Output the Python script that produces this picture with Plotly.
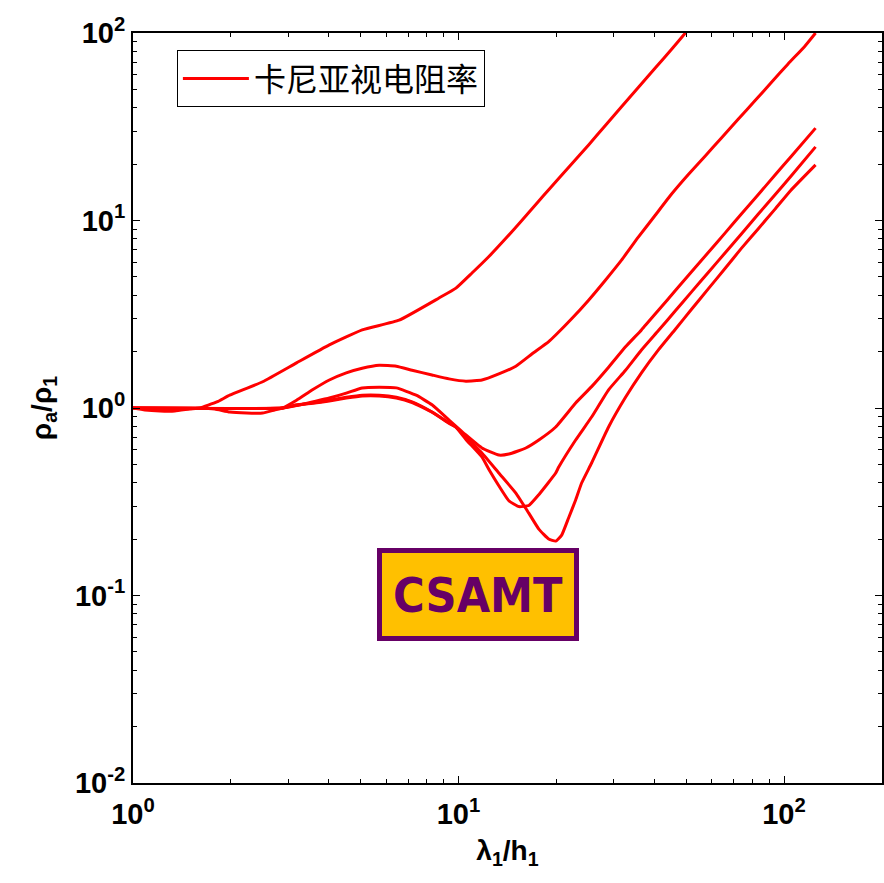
import numpy as np
import plotly.graph_objects as go

# ---- data ----
lam_A = [1.0, 1.088, 1.21, 1.345, 1.495, 1.604, 1.809, 1.982, 2.502, 3.18, 4.01, 5.06, 6.57, 8.71, 9.82,
         11.0, 12.4, 13.98, 15.65, 17.65, 18.93, 22.26, 25.1, 28.3, 31.68, 35.72, 40.27, 45.08, 49.76, 60, 80, 125]
rho_A = [1.0, 0.976, 0.964, 0.964, 0.988, 1.0, 1.077, 1.17, 1.38, 1.74, 2.17, 2.61, 2.94, 3.86, 4.36,
         5.25, 6.43, 8.04, 10.0, 12.7, 14.6, 20.0, 25.3, 32.2, 40.4, 51.3, 65.2, 81.7, 100, 145, 255, 620]

lam_B = [1.0, 1.604, 1.783, 1.982, 2.235, 2.502, 2.722, 2.88, 3.18, 3.56, 4.01, 4.52, 5.06, 5.71, 6.44,
         7.20, 8.29, 9.35, 10.54, 11.8, 13.3, 15.0, 16.8, 18.93, 19.89, 22.26, 25.1, 28.3, 31.68, 35.72,
         40.27, 45.08, 50.82, 57.28, 64.12, 72.29, 81.51, 91.25, 102.9, 115.9, 125]
rho_B = [1.0, 1.0, 0.988, 0.952, 0.94, 0.94, 0.976, 1.0, 1.10, 1.25, 1.41, 1.54, 1.63, 1.69, 1.67,
         1.59, 1.50, 1.43, 1.39, 1.41, 1.52, 1.67, 1.94, 2.26, 2.45, 2.99, 3.76, 4.82, 6.15, 8.17,
         10.7, 13.8, 17.6, 22.1, 27.5, 34.7, 43.6, 54.3, 68.4, 85.1, 100]

lam_C = [1.0, 2.88, 3.18, 3.56, 4.01, 4.52, 5.06, 5.71, 6.44, 7.41, 8.29, 9.35, 10.54, 11.8, 13.3, 14.28,
         16.1, 17.65, 19.89, 22.9, 25.64, 28.91, 32.59, 36.48, 41.13, 46.37, 51.91, 58.51, 65.97, 73.84,
         83.26, 93.85, 105.0, 125]
rho_C = [1.0, 1.0, 1.03, 1.077, 1.13, 1.20, 1.28, 1.29, 1.28, 1.17, 1.04, 0.863, 0.718, 0.612, 0.561, 0.568,
         0.612, 0.675, 0.792, 1.063, 1.30, 1.65, 2.12, 2.61, 3.32, 4.23, 5.31, 6.75, 8.59, 10.8,
         13.7, 17.5, 21.9, 31.1]

lam_D = [1.0, 2.88, 3.18, 3.56, 4.01, 4.52, 5.06, 5.71, 6.44, 7.20, 8.29, 9.35, 9.82, 10.54, 11.8, 12.4,
         13.3, 14.28, 15.32, 16.44, 17.65, 19.89, 20.32, 22.9, 25.64, 28.91, 32.59, 36.48, 41.13, 46.37,
         51.91, 58.51, 65.97, 73.84, 83.26, 93.85, 105.0, 125]
rho_D = [1.0, 1.0, 1.04, 1.063, 1.10, 1.14, 1.17, 1.17, 1.14, 1.077, 0.952, 0.832, 0.792, 0.680, 0.548, 0.470,
         0.385, 0.320, 0.298, 0.302, 0.345, 0.450, 0.484, 0.675, 0.895, 1.25, 1.59, 2.04, 2.59, 3.30,
         4.15, 5.28, 6.73, 8.45, 10.8, 13.7, 17.2, 24.7]

lam_E = [1.0, 2.88, 3.18, 3.56, 4.01, 4.52, 5.06, 5.71, 6.44, 7.20, 8.29, 9.35, 9.82, 10.54, 11.8, 13.3,
         15.0, 16.44, 17.65, 18.93, 19.89, 20.75, 21.8, 22.9, 23.89, 25.64, 28.91, 32.59, 36.48, 41.13,
         46.37, 51.91, 58.51, 65.97, 73.84, 83.26, 93.85, 105.0, 125]
rho_E = [1.0, 1.0, 1.035, 1.06, 1.09, 1.13, 1.16, 1.16, 1.13, 1.07, 0.95, 0.83, 0.79, 0.700, 0.575, 0.450,
         0.352, 0.275, 0.226, 0.200, 0.195, 0.210, 0.26, 0.323, 0.398, 0.509, 0.792, 1.14, 1.54, 2.04,
         2.63, 3.35, 4.32, 5.56, 7.08, 9.02, 11.5, 14.5, 19.8]

series = [(lam_A, rho_A), (lam_B, rho_B), (lam_C, rho_C), (lam_D, rho_D), (lam_E, rho_E)]
legend_name = "卡尼亚视电阻率"

x_major = [1, 10, 100]
x_major_text = ["10<sup>0</sup>", "10<sup>1</sup>", "10<sup>2</sup>"]
y_major = [0.01, 0.1, 1, 10, 100]
y_major_text = ["10<sup>-2</sup>", "10<sup>-1</sup>", "10<sup>0</sup>", "10<sup>1</sup>", "10<sup>2</sup>"]
x_minor = [m * d for d in [1, 10, 100] for m in range(2, 10)]
y_minor = [m * d for d in [0.01, 0.1, 1, 10] for m in range(2, 10)]

fig = go.Figure()
for i, (lx, ry) in enumerate(series):
    fig.add_trace(go.Scatter(
        x=lx, y=ry, mode="lines", name=legend_name, legendgroup="ca",
        showlegend=(i == 0),
        line=dict(color="#FF0000", width=3, shape="spline", smoothing=0.4),
    ))

FONT = "Liberation Sans, Arial, sans-serif"
tickfont = dict(family=FONT, size=29, color="black")
common = dict(
    type="log", showline=True, linecolor="black", linewidth=2, mirror="ticks",
    ticks="inside", ticklen=7, tickwidth=1.2, tickcolor="black",
    showgrid=False, zeroline=False, tickmode="array", tickfont=tickfont,
)

fig.update_xaxes(
    range=[0, np.log10(200)], tickvals=x_major,
    ticktext=["<b>%s</b>" % t for t in x_major_text],
    ticklabelstandoff=4,
    minor=dict(tickmode="array", tickvals=x_minor, ticks="inside", ticklen=4,
               tickwidth=1, tickcolor="black", showgrid=False),
    title=dict(text="<b>λ<sub>1</sub>/h<sub>1</sub></b>", standoff=12,
               font=dict(family=FONT, size=28, color="black")),
    **common,
)
fig.update_yaxes(
    range=[-2, 2], tickvals=y_major,
    ticktext=["<b>%s</b>" % t for t in y_major_text],
    minor=dict(tickmode="array", tickvals=y_minor, ticks="inside", ticklen=4,
               tickwidth=1, tickcolor="black", showgrid=False),
    title=dict(text="<b>ρ<sub>a</sub>/ρ<sub>1</sub></b>",
               font=dict(family=FONT, size=28, color="black")),
    **common,
)

fig.add_annotation(
    x=0.4607, y=0.2513, xref="paper", yref="paper", xanchor="center", yanchor="middle",
    text="<b>CSAMT</b>", showarrow=False,
    font=dict(family="Liberation Sans Narrow, Arial Narrow, DejaVu Sans Condensed, sans-serif",
              size=48, color="#660066"),
    bgcolor="#FFC000", bordercolor="#660066", borderwidth=5, borderpad=0,
    width=192, height=83,
)

fig.update_layout(
    width=884, height=883,
    margin=dict(l=133, r=0, t=33, b=100),
    plot_bgcolor="white", paper_bgcolor="white",
    showlegend=True,
    legend=dict(x=0.0586, y=0.977, xanchor="left", yanchor="top",
                bordercolor="black", borderwidth=1, bgcolor="white",
                font=dict(family="Noto Sans CJK SC", size=32, color="black"),
                itemwidth=66),
)

fig.write_html("out.html")
